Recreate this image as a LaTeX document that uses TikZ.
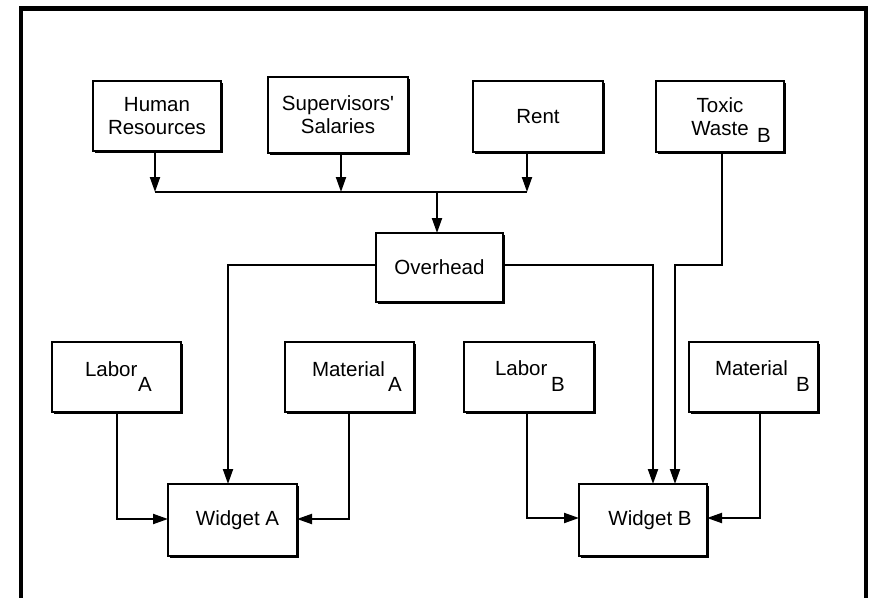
\documentclass[tikz,border=0pt]{standalone}
\usepackage{fontspec}
\setmainfont{Liberation Sans}
\usetikzlibrary{arrows.meta,shadows}
\tikzset{
  box/.style={draw, line width=2pt, fill=white, inner sep=0pt, outer sep=0pt,
    align=center, font=\fontsize{20.5}{23}\selectfont,
    drop shadow={shadow xshift=1.6pt, shadow yshift=-1.6pt, fill=black, opacity=1}},
  txt/.style={inner sep=0pt, outer sep=0pt, anchor=base west, font=\fontsize{20.5}{23}\selectfont},
  conn/.style={line width=2pt, line join=miter},
  arr/.style={conn, -{Triangle[length=15pt,width=10pt]}},
  frame/.style={line width=4.6pt, line join=miter}
}
\begin{document}
\begin{tikzpicture}[x=1pt,y=-1pt]
\useasboundingbox (0,0) rectangle (872,597);
\fill[white] (0,0) rectangle (872,597);
% frame
\draw[frame] (21,602) -- (21,8.5) -- (866,8.5) -- (866,602);

% top row
\node[box, minimum width=128pt, minimum height=70pt] (hr) at (157,116) {Human\\Resources};
\node[box, minimum width=140pt, minimum height=76pt] (sup) at (338,115) {Supervisors\textquotesingle\\Salaries};
\node[box, minimum width=130pt, minimum height=71pt] (rent) at (538,116.5) {Rent};
\node[box, minimum width=128pt, minimum height=71pt] (tw) at (720,116.5) {Toxic\\Waste};
\node[txt] (twB) at (757,142) {B};

% overhead
\node[box, minimum width=127pt, minimum height=69pt] (oh) at (439.5,267.5) {Overhead};

% middle row
\node[box, minimum width=129pt, minimum height=70pt] (la) at (116.5,377) {};
\node[txt] (laT) at (85,376) {Labor};
\node[txt] (laS) at (138,391) {A};
\node[box, minimum width=129pt, minimum height=70pt] (ma) at (349.5,377) {};
\node[txt] (maT) at (312,376) {Material};
\node[txt] (maS) at (388,391) {A};
\node[box, minimum width=130pt, minimum height=70pt] (lb) at (529,377) {};
\node[txt] (lbT) at (495,375) {Labor};
\node[txt] (lbS) at (551,391) {B};
\node[box, minimum width=129pt, minimum height=70pt] (mb) at (753.5,377) {};
\node[txt] (mbT) at (715,375) {Material};
\node[txt] (mbS) at (796,391) {B};

% widgets
\node[box, minimum width=129pt, minimum height=72pt] (wa) at (232.5,520) {\hspace*{10pt}Widget A};
\node[box, minimum width=128pt, minimum height=72pt] (wb) at (643,520) {\hspace*{14pt}Widget B};

% bus coordinates
\coordinate (bL) at (155,192);
\coordinate (bS) at (341,192);
\coordinate (bR) at (527,192);
\coordinate (bM) at (437,192);
\draw[arr] (bL |- hr.south) -- (bL);
\draw[arr] (bS |- sup.south) -- (bS);
\draw[arr] (bR |- rent.south) -- (bR);
\draw[conn] (bL) -- (bR);
\draw[arr] (bM) -- (bM |- oh.north);

% overhead to widgets
\coordinate (ohL) at (228,265);
\coordinate (ohR) at (653,265);
\draw[arr] (ohL -| oh.west) -- (ohL) -- (ohL |- wa.north);
\draw[arr] (ohR -| oh.east) -- (ohR) -- (ohR |- wb.north);

% toxic waste to widget B
\coordinate (tw1) at (722,265);
\coordinate (tw2) at (675,265);
\draw[arr] (tw1 |- tw.south) -- (tw1) -- (tw2) -- (tw2 |- wb.north);

% labor / material to widgets
\coordinate (la1) at (117,519);
\coordinate (ma1) at (349,519);
\coordinate (lb1) at (527,518);
\coordinate (mb1) at (760,518);
\draw[arr] (la1 |- la.south) -- (la1) -- (la1 -| wa.west);
\draw[arr] (ma1 |- ma.south) -- (ma1) -- (ma1 -| wa.east);
\draw[arr] (lb1 |- lb.south) -- (lb1) -- (lb1 -| wb.west);
\draw[arr] (mb1 |- mb.south) -- (mb1) -- (mb1 -| wb.east);
\end{tikzpicture}
\end{document}
